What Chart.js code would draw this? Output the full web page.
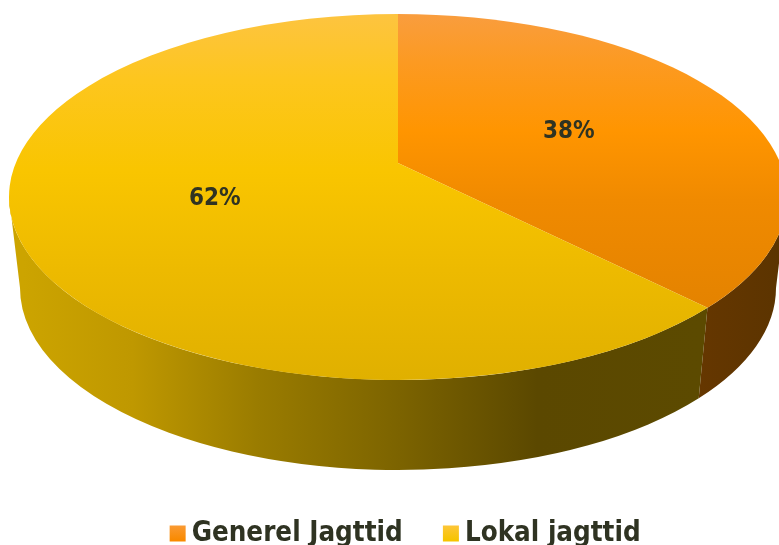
<!DOCTYPE html>
<html>
<head>
<meta charset="utf-8">
<style>
html,body{margin:0;padding:0;background:#fff;overflow:hidden}
canvas{display:block}
</style>
<script src="https://cdn.jsdelivr.net/npm/chart.js@4"></script>
</head>
<body>
<canvas id="c" width="779" height="545"></canvas>
<script>
const categories = ["Generel Jagttid", "Lokal jagttid"];
const shares = [37.6, 62.4];

const FONT = "'DejaVu Sans Condensed','DejaVu Sans',sans-serif";
const INK = "#2F3322";
const faceStops = [
  [[0,"#F99D3E"],[0.13,"#FC9A22"],[0.32,"#FF9500"],[0.51,"#F08A00"],[1,"#DC7E00"]],
  [[0,"#FDC440"],[0.18,"#FDC61E"],[0.43,"#F9C500"],[0.7,"#EDBA00"],[1,"#E0B000"]]
];
const wallStops = [
  [[0.89,"#663700"],[1,"#5C3400"]],
  [[0.03,"#CCA400"],[0.17,"#BF9800"],[0.33,"#9A7C00"],[0.5,"#7E6500"],[0.69,"#5B4800"],[0.9,"#5C4A00"]]
];
const swatchStops = [
  [[0,"#FA9C38"],[1,"#F98A00"]],
  [[0,"#FEC63E"],[1,"#F6C400"]]
];

function grad(ctx, x0, y0, x1, y1, stops) {
  const g = ctx.createLinearGradient(x0, y0, x1, y1);
  stops.forEach(s => g.addColorStop(s[0], s[1]));
  return g;
}

const RX = 389 / 197, RY = 183 / 197;      // face radii relative to the pie radius
const APEX = -34 / 197;                    // perspective shift of the centre
const LOW_RX = 378 / 197, LOW_RY = 182 / 197, LOW_DY = 91 / 197;
const SWEEP_TOP = -Math.PI / 2;

function project(arc, angle, frac) {
  const r = arc.outerRadius, k = APEX / RY;
  const u = Math.cos(angle) * frac, v = Math.sin(angle) * frac;
  const w = 1 + k * v;
  return {
    x: arc.x + r * RX * Math.sqrt(1 - k * k) * u / w,
    y: arc.y + r * (RY * v + APEX) / w
  };
}
function ellipseParam(arc, angle) {
  const p = project(arc, angle, 1), r = arc.outerRadius;
  let t = Math.atan2((p.y - arc.y) / (r * RY), (p.x - arc.x) / (r * RX));
  if (t < SWEEP_TOP - 1e-6) t += 2 * Math.PI;
  return t;
}

const pie3d = {
  id: "pie3d",
  afterLayout(chart) {
    const lg = chart.legend, h = lg.bottom - lg.top;
    lg.left += 19.5; lg.right += 19.5;
    lg.top = 536.5 - 16.8 - chart.options.plugins.legend.labels.padding;
    lg.bottom = lg.top + h + 60;
    const a = chart.chartArea;
    a.left = 1; a.right = 795; a.width = 794;
    a.top = 0; a.bottom = 394; a.height = 394;
  },
  beforeDatasetDraw(chart, args) {
    const ctx = chart.ctx, arcs = args.meta.data;
    arcs.forEach((arc, i) => {
      const r = arc.outerRadius;
      let t1 = ellipseParam(arc, arc.startAngle);
      let t2 = ellipseParam(arc, arc.endAngle);
      if (t2 <= t1) t2 += 2 * Math.PI;
      const a = Math.max(t1, 0), b = Math.min(t2, Math.PI);
      if (b > a) {
        ctx.beginPath();
        ctx.ellipse(arc.x, arc.y + r * LOW_DY, r * LOW_RX, r * LOW_RY, 0, a, b);
        ctx.lineTo(arc.x + r * RX * Math.cos(b), arc.y + r * RY * Math.sin(b));
        ctx.ellipse(arc.x, arc.y, r * RX, r * RY, 0, b, a, true);
        ctx.closePath();
        ctx.fillStyle = grad(ctx, 0, 0, chart.width, 0, wallStops[i]);
        ctx.fill();
      }
    });
    arcs.forEach((arc, i) => {
      const r = arc.outerRadius;
      let t1 = ellipseParam(arc, arc.startAngle);
      let t2 = ellipseParam(arc, arc.endAngle);
      if (t2 <= t1) t2 += 2 * Math.PI;
      const apex = project(arc, 0, 0);
      ctx.beginPath();
      ctx.moveTo(apex.x, apex.y);
      ctx.ellipse(arc.x, arc.y, r * RX, r * RY, 0, t1, t2);
      ctx.closePath();
      ctx.fillStyle = grad(ctx, 0, arc.y - r * RY, 0, arc.y + r * RY, faceStops[i]);
      ctx.fill();
    });
    return false;
  },
  afterDatasetsDraw(chart) {
    const ctx = chart.ctx, arcs = chart.getDatasetMeta(0).data;
    const total = shares.reduce((s, v) => s + v, 0);
    ctx.save();
    ctx.font = "bold 24px " + FONT;
    ctx.fillStyle = INK;
    ctx.textAlign = "center";
    ctx.textBaseline = "middle";
    arcs.forEach((arc, i) => {
      const p = project(arc, (arc.startAngle + arc.endAngle) / 2, 0.5);
      ctx.fillText(Math.round(shares[i] / total * 100) + "%", p.x, p.y + 1);
    });
    ctx.restore();
  }
};

new Chart(document.getElementById("c"), {
  type: "pie",
  plugins: [pie3d],
  data: {
    labels: categories,
    datasets: [{ data: shares, backgroundColor: ["#F98F0A", "#F9C500"], borderWidth: 0 }]
  },
  options: {
    responsive: false,
    animation: false,
    events: [],
    plugins: {
      tooltip: { enabled: false },
      legend: {
        position: "bottom",
        labels: {
          usePointStyle: true,
          pointStyle: "rect",
          boxWidth: 0.5,
          boxHeight: 16,
          padding: 48,
          color: INK,
          font: { family: FONT, size: 27.5, weight: "bold" },
          generateLabels(chart) {
            const ctx = chart.ctx;
            return Chart.overrides.pie.plugins.legend.labels.generateLabels(chart).map((it, i) => {
              it.fillStyle = grad(ctx, 0, 524, 0, 540, swatchStops[i]);
              it.strokeStyle = "rgba(0,0,0,0)";
              it.lineWidth = 0;
              it.pointStyle = "rect";
              return it;
            });
          }
        }
      }
    }
  }
});
</script>
</body>
</html>
